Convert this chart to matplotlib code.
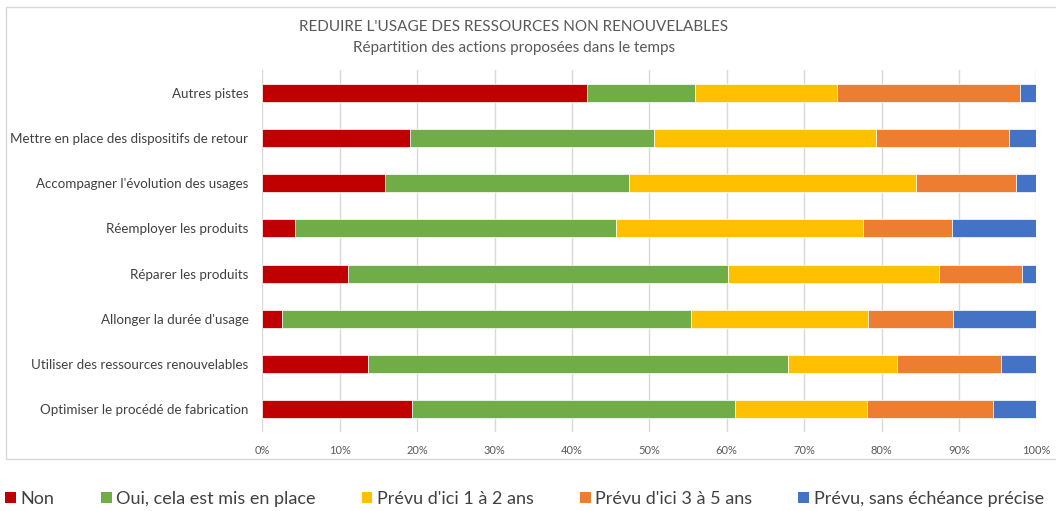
import matplotlib
matplotlib.use("Agg")
import matplotlib.pyplot as plt
from matplotlib.patches import Rectangle, Patch
import numpy as np

plt.rcParams['font.family'] = ['Lato', 'DejaVu Sans']

categories = [
    "Optimiser le procédé de fabrication",
    "Utiliser des ressources renouvelables",
    "Allonger la durée d'usage",
    "Réparer les produits",
    "Réemployer les produits",
    "Accompagner l'évolution des usages",
    "Mettre en place des dispositifs de retour",
    "Autres pistes",
]
series_names = ["Non", "Oui, cela est mis en place", "Prévu d'ici 1 à 2 ans",
                "Prévu d'ici 3 à 5 ans", "Prévu, sans échéance précise"]
non = [19.4, 13.7, 2.6, 11.1, 4.2, 15.9, 19.1, 42.0]
oui = [41.7, 54.2, 52.8, 49.1, 41.5, 31.5, 31.5, 13.9]
prevu_1_2 = [17.0, 14.1, 22.9, 27.2, 31.9, 37.1, 28.7, 18.4]
prevu_3_5 = [16.3, 13.5, 11.0, 10.7, 11.5, 12.9, 17.2, 23.6]
prevu_sans = [5.6, 4.5, 10.7, 1.9, 10.9, 2.6, 3.5, 2.1]
colors = ["#C00000", "#70AD47", "#FFC000", "#ED7D31", "#4472C4"]
xticks = [0, 10, 20, 30, 40, 50, 60, 70, 80, 90, 100]

W, H = 1056, 511
fig = plt.figure(figsize=(W / 100, H / 100), dpi=100)
fig.patches.append(Rectangle((6 / W, 1 - 459 / H), 1.1, (459 - 7) / H,
                             transform=fig.transFigure, fill=False,
                             edgecolor="#d9d9d9", linewidth=1.0, zorder=0))
ax = fig.add_axes([262.3 / W, 1 - 432 / H, (1036.3 - 262.3) / W, (432 - 70) / H])

data = [non, oui, prevu_1_2, prevu_3_5, prevu_sans]
y = np.arange(len(categories))
left = np.zeros(len(categories))
for vals, c, name in zip(data, colors, series_names):
    ax.barh(y, vals, left=left, height=0.4, color=c, edgecolor="white",
            linewidth=0.5, label=name, zorder=3)
    left += np.array(vals)

ax.set_xlim(0, 100)
ax.set_ylim(-0.5, len(categories) - 0.5)
ax.set_xticks(xticks)
ax.set_xticklabels([f"{t}%" for t in xticks], fontsize=8, color="#595959")
ax.set_yticks(y)
ax.set_yticklabels(categories, fontsize=9.6, color="#404040")
ax.tick_params(axis='both', length=0)
ax.tick_params(axis='y', pad=10)
ax.tick_params(axis='x', pad=9)
ax.grid(axis='x', color="#d9d9d9", linewidth=1.0, zorder=0)
for s in ax.spines.values():
    s.set_visible(False)

fig.text(514 / W, 1 - 27 / H, "REDUIRE L'USAGE DES RESSOURCES NON RENOUVELABLES",
         ha="center", va="center", fontsize=11, color="#595959")
fig.text(514 / W, 1 - 48 / H, "Répartition des actions proposées dans le temps",
         ha="center", va="center", fontsize=11, color="#595959")

handles = [Patch(facecolor=c, edgecolor="none") for c in colors]
fig.legend(handles, series_names, loc="center left", ncol=5,
           bbox_to_anchor=(0.0, 1 - 499 / H), frameon=False, fontsize=13,
           handlelength=0.6, handleheight=0.6, handletextpad=0.25,
           columnspacing=2.55, borderaxespad=0, borderpad=0.3,
           labelcolor="#404040")

fig.savefig("out.png", dpi=100)
